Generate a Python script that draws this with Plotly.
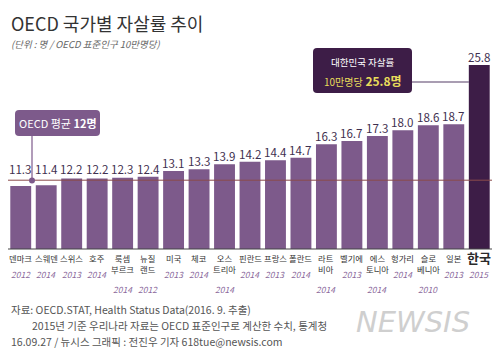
import plotly.graph_objects as go

# ---- data ----
countries = ["덴마크", "스웨덴", "스위스", "호주", "룩셈<br>부르크", "뉴질<br>랜드", "미국", "체코",
             "오스<br>트리아", "핀란드", "프랑스", "폴란드", "라트<br>비아", "벨기에", "에스<br>토니아",
             "헝가리", "슬로<br>베니아", "일본", "한국"]
years = ["2012", "2014", "2013", "2014", "2014", "2012", "2013", "2014", "2014", "2014", "2013",
         "2014", "2014", "2013", "2014", "2014", "2010", "2013", "2015"]
rates = [11.3, 11.4, 12.2, 12.2, 12.3, 12.4, 13.1, 13.3, 13.9, 14.2, 14.4, 14.7, 16.3, 16.7,
         17.3, 18.0, 18.6, 18.7, 25.8]
oecd_avg = 12
korea_rate = 25.8

# ---- geometry helpers (page pixel -> paper); page body has an 8px margin ----
OFF = 8
W, H = 500 - OFF, 356 - OFF
PLOT_L, PLOT_R, PLOT_T, PLOT_B = 6, 492, 40, 249   # page pixels
L, R, T, B = max(PLOT_L - OFF, 0), 500 - PLOT_R, PLOT_T - OFF, 356 - PLOT_B
PW, PH = W - L - R, H - T - B
Y0, Y1 = 3.75, 3.75 + PH / 8.34

def xp(px):
    return (px - OFF - L) / PW

def yp(py):
    return (PLOT_B - py) / PH

def rrect(x0, y0, x1, y1, r):
    X, Y = xp, yp
    return (f"M {X(x0+r)},{Y(y0)} L {X(x1-r)},{Y(y0)} Q {X(x1)},{Y(y0)} {X(x1)},{Y(y0+r)} "
            f"L {X(x1)},{Y(y1-r)} Q {X(x1)},{Y(y1)} {X(x1-r)},{Y(y1)} "
            f"L {X(x0+r)},{Y(y1)} Q {X(x0)},{Y(y1)} {X(x0)},{Y(y1-r)} "
            f"L {X(x0)},{Y(y0+r)} Q {X(x0)},{Y(y0)} {X(x0+r)},{Y(y0)} Z")

FONT = "Noto Sans CJK KR"
BAR = "#7d5a8b"
KOR = "#3d1d47"
n = len(countries)
xs = list(range(n))
colors = [BAR] * (n - 1) + [KOR]

fig = go.Figure()
fig.add_trace(go.Bar(x=xs, y=rates, marker=dict(color=colors, line=dict(width=0)),
                     hoverinfo="skip", showlegend=False))

ann = []
# value labels
for i, v in enumerate(rates):
    ann.append(dict(x=i, y=max(v, 12.4), xref="x", yref="y", text=f"{v:.1f}", showarrow=False,
                    yanchor="bottom", xanchor="center", yshift=-2,
                    font=dict(family=FONT, size=11.6, color="#3f3050")))
# category labels
for i, (c, yr) in enumerate(zip(countries, years)):
    two = "<br>" in c
    if i == n - 1:
        ann.append(dict(x=i, y=yp(258), xref="x", yref="paper", text=f"<b>{c}</b>", showarrow=False,
                        yanchor="middle", font=dict(family=FONT, size=13, color="#2a2a2a")))
    else:
        ann.append(dict(x=i, y=yp(250), xref="x", yref="paper", text=c, showarrow=False,
                        yanchor="top", font=dict(family=FONT, size=8.3, color="#333333")))
    ann.append(dict(x=i, y=yp(289 if two else 274), xref="x", yref="paper", text=f"<i>{yr}</i>",
                    showarrow=False, yanchor="middle",
                    font=dict(family=FONT, size=8.5, color="#8b6a9c")))

# title & subtitle
ann.append(dict(x=xp(9), y=1 + T / PH, xref="paper", yref="paper", text="OECD 국가별 자살률 추이",
                showarrow=False, xanchor="left", yanchor="top",
                font=dict(family=FONT, size=18, color="#333333")))
ann.append(dict(x=xp(9), y=yp(44), xref="paper", yref="paper",
                text="<i>(단위 : 명 / OECD 표준인구 10만명당)</i>", showarrow=False,
                xanchor="left", yanchor="middle", font=dict(family=FONT, size=9.5, color="#666666")))

# OECD average box
ann.append(dict(x=xp(57.5), y=yp(123), xref="paper", yref="paper",
                text=f"OECD 평균 <b>{oecd_avg}명</b>", showarrow=False, xanchor="center",
                yanchor="middle", font=dict(family=FONT, size=11, color="white")))
# Korea box
ann.append(dict(x=xp(362.5), y=yp(62), xref="paper", yref="paper", text="대한민국 자살률",
                showarrow=False, xanchor="center", yanchor="middle",
                font=dict(family=FONT, size=9.5, color="white")))
ann.append(dict(x=xp(362.5), y=yp(80), xref="paper", yref="paper",
                text=f"<span style='font-size:10px'>10만명당</span> <b>{korea_rate}명</b>",
                showarrow=False, xanchor="center", yanchor="middle",
                font=dict(family=FONT, size=12, color="#e8dc5a")))

# footer
foot = dict(family=FONT, size=10.5, color="#555555")
ann.append(dict(x=xp(9), y=yp(309), xref="paper", yref="paper",
                text="자료: OECD.STAT, Health Status Data(2016. 9. 추출)", showarrow=False,
                xanchor="left", yanchor="middle", font=foot))
ann.append(dict(x=xp(30), y=yp(325), xref="paper", yref="paper",
                text="2015년 기준 우리나라 자료는 OECD 표준인구로 계산한 수치, 통계청", showarrow=False,
                xanchor="left", yanchor="middle", font=foot))
ann.append(dict(x=xp(9), y=yp(341), xref="paper", yref="paper",
                text="16.09.27 / 뉴시스 그래픽 : 전진우 기자 618tue@newsis.com", showarrow=False,
                xanchor="left", yanchor="middle", font=foot))
ann.append(dict(x=xp(413), y=yp(322), xref="paper", yref="paper", text="<i>NEWSIS</i>",
                showarrow=False, xanchor="center", yanchor="middle",
                font=dict(family="DejaVu Sans", size=29, color="#cfcfcf")))

shapes = [
    # baseline
    dict(type="line", xref="paper", yref="paper", x0=xp(8), x1=xp(500), y0=0, y1=0,
         line=dict(color="#444444", width=1)),
    # OECD average line
    dict(type="line", xref="paper", yref="y", x0=xp(8), x1=xp(500), y0=oecd_avg, y1=oecd_avg,
         line=dict(color="#8a4a4a", width=1)),
    # OECD box
    dict(type="path", xref="paper", yref="paper", path=rrect(15, 110, 100, 136, 4),
         fillcolor=BAR, line=dict(width=0)),
    dict(type="line", xref="paper", yref="paper", x0=xp(32), x1=xp(32), y0=yp(136), y1=yp(180),
         line=dict(color=BAR, width=1.2)),
    dict(type="circle", xref="paper", yref="paper", x0=xp(29), x1=xp(35), y0=yp(177.5),
         y1=yp(183.5), fillcolor=BAR, line=dict(width=0)),
    # Korea box
    dict(type="path", xref="paper", yref="paper", path=rrect(313, 48, 412, 93, 4),
         fillcolor=KOR, line=dict(width=0)),
    dict(type="line", xref="paper", yref="paper", x0=xp(412), x1=xp(469), y0=yp(82), y1=yp(82),
         line=dict(color="#8d7c99", width=1.5)),
]

fig.update_layout(
    width=W, height=H,
    margin=dict(l=L, r=R, t=T, b=B, autoexpand=False),
    paper_bgcolor="white", plot_bgcolor="white",
    bargap=0.18,
    xaxis=dict(range=[-0.5, n - 0.5], visible=False, fixedrange=True),
    yaxis=dict(range=[Y0, Y1], visible=False, fixedrange=True),
    annotations=ann, shapes=shapes,
    showlegend=False,
)
fig.write_html("out.html")
